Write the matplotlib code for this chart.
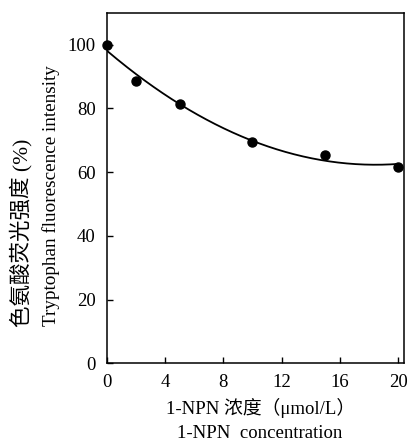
import numpy as np
import matplotlib
matplotlib.use("Agg")
import matplotlib.pyplot as plt

plt.rcParams["font.family"] = ["Liberation Serif", "Noto Sans CJK SC", "DejaVu Sans"]

# ── Data ──────────────────────────────────────────────────────────────────────
conc = [0, 2, 5, 10, 15, 20]
intensity = [100.0, 88.5, 81.3, 69.3, 65.4, 61.7]
x_ticks = [0, 4, 8, 12, 16, 20]
y_ticks = [0, 20, 40, 60, 80, 100]

# quadratic trend line fitted to the points
coef = np.polyfit(conc, intensity, 2)
xs = np.linspace(0, 20, 200)
ys = np.polyval(coef, xs)

fig = plt.figure(figsize=(4.08, 4.43), dpi=100)
ax = fig.add_axes([0.262, 0.180, 0.728, 0.791])

ax.plot(xs, ys, color="black", lw=1.3, zorder=2)
ax.plot(conc, intensity, "o", color="black", ms=6.5, clip_on=False, zorder=3)

ax.set_xlim(0, 20.4)
ax.set_ylim(0, 110)
ax.set_xticks(x_ticks)
ax.set_yticks(y_ticks)
ax.tick_params(direction="in", length=4, width=1, labelsize=13.5, pad=8)
for s in ax.spines.values():
    s.set_linewidth(1.1)

fig.text(0.052, 0.474, "色氨酸荧光强度 (%)", rotation=90, ha="center", va="center", fontsize=15.5)
fig.text(0.126, 0.558, "Tryptophan fluorescence intensity", rotation=90, ha="center", va="center", fontsize=13.8)
fig.text(0.638, 0.078, "1-NPN 浓度（μmol/L）", ha="center", va="center", fontsize=13.5)
fig.text(0.636, 0.022, "1-NPN  concentration", ha="center", va="center", fontsize=13.5)

fig.savefig("out.png", dpi=100)
